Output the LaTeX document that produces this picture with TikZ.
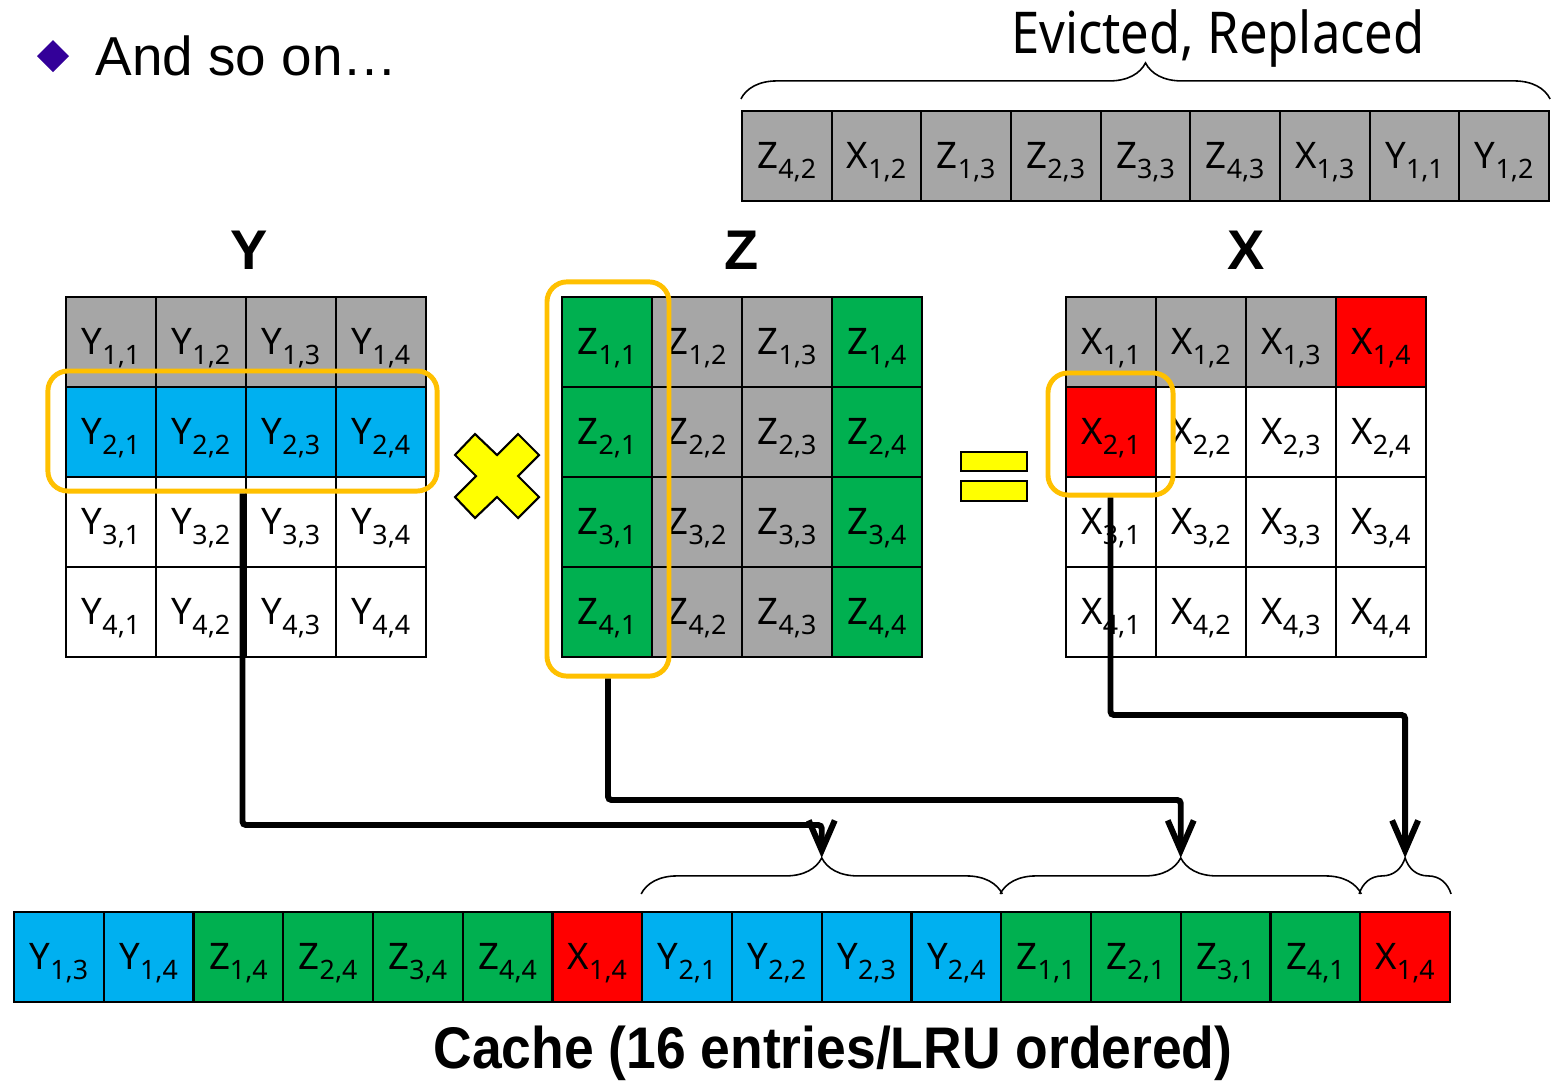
\documentclass[tikz,border=0pt]{standalone}
\usepackage{fontspec}
\setmainfont{Noto Sans}
\newfontfamily\arialfont{Liberation Sans}
\newfontfamily\narrowfont[FakeStretch=0.88]{Noto Sans}
\newfontfamily\headfont{Liberation Sans Bold}
\newfontfamily\titlefont[FakeStretch=0.91]{Liberation Sans Bold}
\usetikzlibrary{positioning,arrows.meta,calc,fit,decorations.pathreplacing}
\definecolor{cgray}{RGB}{166,166,166}
\definecolor{cblue}{RGB}{0,176,240}
\definecolor{cgreen}{RGB}{0,176,80}
\definecolor{cred}{RGB}{255,0,0}
\definecolor{cyell}{RGB}{255,255,0}
\definecolor{cgold}{RGB}{255,192,0}
\definecolor{bulletc}{RGB}{51,0,153}
\newcommand{\ent}[2]{\rule{0pt}{11pt}#1\raisebox{-2.8pt}{\fontsize{7.6}{8}\selectfont #2}}
\tikzset{
  cell/.style={draw=black, line width=0.6pt, minimum size=0.9cm, inner sep=0pt,
               font=\fontsize{10.4}{12}\selectfont, text=black},
  qcell/.style={cell, minimum width=0.8975cm},
  ecell/.style={cell, minimum width=0.8967cm, fill=cgray},
  hl/.style={draw=cgold, line width=1.4pt, rounded corners=0.2cm, inner sep=0pt},
  flow/.style={line width=1.7pt, rounded corners=1pt,
               -{Straight Barb[length=3mm,width=2.6mm]}},
  brc/.style={decorate, decoration={brace, amplitude=0.36cm}, line width=0.45pt},
  head/.style={font=\headfont\fontsize{15.9}{18}\selectfont},
}

\begin{document}
\begin{tikzpicture}[x=0.01cm, y=-0.01cm,
  xc14/.style={fill=cred}, xc21/.style={fill=cred}]
  \useasboundingbox (0,0) rectangle (1556,1081);

  % bullet line
  \fill[bulletc] (53,40) -- (69,56) -- (53,72) -- (37,56) -- cycle;
  \node[anchor=base west, inner sep=0pt, font=\arialfont\fontsize{15.6}{18}\selectfont]
    (more) at (95,75) {And so on…};

  % matrix headers
  \node[head] (ylab) at (249,250) {Y};
  \node[head] (zlab) at (742,250) {Z};
  \node[head] (xlab) at (1246,250) {X};

  % Y matrix (row 1 gray, row 2 blue)
  \foreach \r/\rc in {1/cgray,2/cblue,3/white,4/white}
    \foreach \c in {1,...,4}
      \node[cell, fill=\rc] (y\r\c) at ({21+90*\c},{252+90*\r}) {\ent{Y}{\r,\c}};

  % Z matrix (columns 1 and 4 green)
  \foreach \c/\cc in {1/cgreen,2/cgray,3/cgray,4/cgreen}
    \foreach \r in {1,...,4}
      \node[cell, fill=\cc] (z\r\c) at ({517+90*\c},{252+90*\r}) {\ent{Z}{\r,\c}};

  % X matrix
  \foreach \r/\rc in {1/cgray,2/white,3/white,4/white}
    \foreach \c in {1,...,4}
      \node[cell, fill=\rc, xc\r\c/.try] (x\r\c) at ({1021+90*\c},{252+90*\r}) {\ent{X}{\r,\c}};

  % times and equals signs
  \filldraw[fill=cyell, draw=black, line width=0.6pt]
    (475,434) -- (497,455) -- (518,434) -- (539,455) -- (518,476) -- (539,497)
    -- (518,518) -- (497,497) -- (475,518) -- (455,497) -- (476,476) -- (455,455) -- cycle;
  \filldraw[fill=cyell, draw=black, line width=0.6pt] (961,452) rectangle (1027,471);
  \filldraw[fill=cyell, draw=black, line width=0.6pt] (961,481) rectangle (1027,501);

  % highlighted accesses
  \node[hl, minimum width=3.89cm, minimum height=1.2cm] (ybox) at (242.5,431) {};
  \node[hl, minimum width=1.22cm, minimum height=3.94cm] (zbox) at (608,479) {};
  \node[hl, minimum width=1.25cm, minimum height=1.22cm] (xbox) at (1110.5,434) {};

  % evicted entries
  \foreach \i/\nm/\a/\b in {1/Z/4/2,2/X/1/2,3/Z/1/3,4/Z/2/3,5/Z/3/3,6/Z/4/3,7/X/1/3,8/Y/1/1,9/Y/1/2}
    \node[ecell] (e\i) at ({742+89.67*\i-44.83},156) {\ent{\nm}{\a,\b}};
  \draw[brc] ($(e1.north west)+(0,-11)$) -- ($(e9.north east)+(0,-11)$);
  \node[anchor=base, inner sep=0pt, font=\narrowfont\fontsize{16.4}{18}\selectfont]
    (evict) at (1218,53) {Evicted, Replaced};

  % cache contents
  \foreach \i/\nm/\a/\b/\fc in {1/Y/1/3/cblue,2/Y/1/4/cblue,3/Z/1/4/cgreen,4/Z/2/4/cgreen,
      5/Z/3/4/cgreen,6/Z/4/4/cgreen,7/X/1/4/cred,8/Y/2/1/cblue,9/Y/2/2/cblue,
      10/Y/2/3/cblue,11/Y/2/4/cblue,12/Z/1/1/cgreen,13/Z/2/1/cgreen,14/Z/3/1/cgreen,
      15/Z/4/1/cgreen,16/X/1/4/cred}
    \node[qcell, fill=\fc] (c\i) at ({14+89.75*\i-44.875},957) {\ent{\nm}{\a,\b}};
  \node[anchor=base, inner sep=0pt, font=\titlefont\fontsize{16.7}{18}\selectfont]
    (cache) at (833,1068) {Cache (16 entries/LRU ordered)};

  \draw[brc] ($(c8.north west)+(0,-17)$) -- ($(c11.north east)+(0,-17)$);
  \draw[brc] ($(c12.north west)+(0,-17)$) -- ($(c15.north east)+(0,-17)$);
  \draw[brc] ($(c16.north west)+(0,-17)$) -- ($(c16.north east)+(0,-17)$);
  \coordinate (t1) at ($(c8.north west)!0.5!(c11.north east)+(0,-53)$);
  \coordinate (t2) at ($(c12.north west)!0.5!(c15.north east)+(0,-53)$);
  \coordinate (t3) at ($(c16.north west)!0.5!(c16.north east)+(0,-53)$);

  % loads into cache
  \coordinate (lv1) at (0,825);
  \coordinate (lv2) at (0,800);
  \coordinate (lv3) at (0,715);
  \draw[flow] (ybox.south) -- (ybox.south |- lv1) -- (t1 |- lv1) -- (t1);
  \draw[flow] (zbox.south) -- (zbox.south |- lv2) -- (t2 |- lv2) -- (t2);
  \draw[flow] (xbox.south) -- (xbox.south |- lv3) -- (t3 |- lv3) -- (t3);
\end{tikzpicture}
\end{document}
